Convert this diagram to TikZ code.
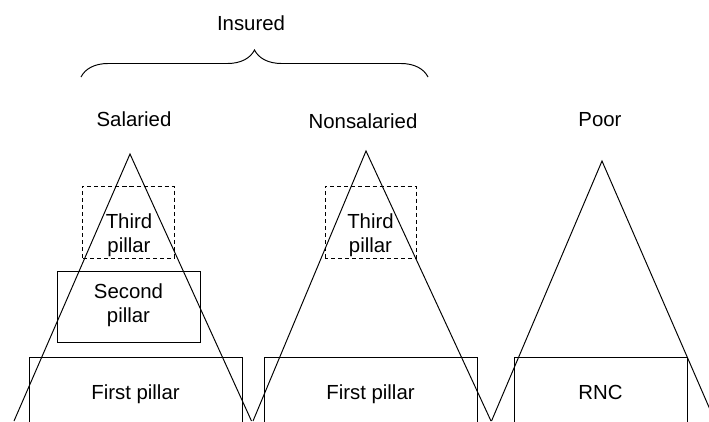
\documentclass[tikz,border=0pt]{standalone}
\usepackage{fontspec}
\setmainfont{Liberation Sans}
\usetikzlibrary{decorations.pathreplacing}

\begin{document}
\begin{tikzpicture}[
  lbl/.style={font=\fontsize{11.6}{13.8}\selectfont, align=center, inner sep=0pt},
  pil/.style={draw, line width=0.55pt},
  opt/.style={draw, line width=0.55pt, dash pattern=on 2.3pt off 1.7pt},
  tri/.style={draw, line width=0.55pt}
]
\useasboundingbox (0,0) rectangle (14.18,8.42);
\clip (0,0) rectangle (14.18,8.42);

% insured group
\node[lbl, anchor=base] (ins) at (5.02,7.82) {Insured};
\draw[line width=0.55pt, decorate, decoration={brace, amplitude=0.54cm}]
  (1.62,6.88) -- (8.56,6.88);

% salaried
\node[lbl, anchor=base] (sal) at (2.68,5.90) {Salaried};
\draw[tri] (0.28,0) -- (2.6,5.34) -- (5.03,0);
\draw[opt] (1.64,3.26) rectangle (3.48,4.70);
\node[lbl] (sal3) at (2.58,3.71) {Third\\pillar};
\draw[pil] (1.14,1.58) rectangle (4.0,3.0);
\node[lbl] (sal2) at (2.57,2.32) {Second\\pillar};
\draw[pil] (0.58,-0.2) rectangle (4.84,1.28);
\node[lbl, anchor=base] (sal1) at (2.71,0.44) {First pillar};

% nonsalaried
\node[lbl, anchor=base] (non) at (7.26,5.86) {Nonsalaried};
\draw[tri] (5.06,0) -- (7.32,5.40) -- (9.82,0);
\draw[opt] (6.5,3.26) rectangle (8.32,4.70);
\node[lbl] (non3) at (7.41,3.71) {Third\\pillar};
\draw[pil] (5.28,-0.2) rectangle (9.54,1.28);
\node[lbl, anchor=base] (non1) at (7.41,0.44) {First pillar};

% poor
\node[lbl, anchor=base] (poor) at (12.0,5.90) {Poor};
\draw[tri] (9.83,0) -- (12.04,5.2) -- (14.3,0);
\draw[pil] (10.28,-0.2) rectangle (13.74,1.28);
\node[lbl, anchor=base] (rnc) at (12.01,0.44) {RNC};
\end{tikzpicture}
\end{document}
